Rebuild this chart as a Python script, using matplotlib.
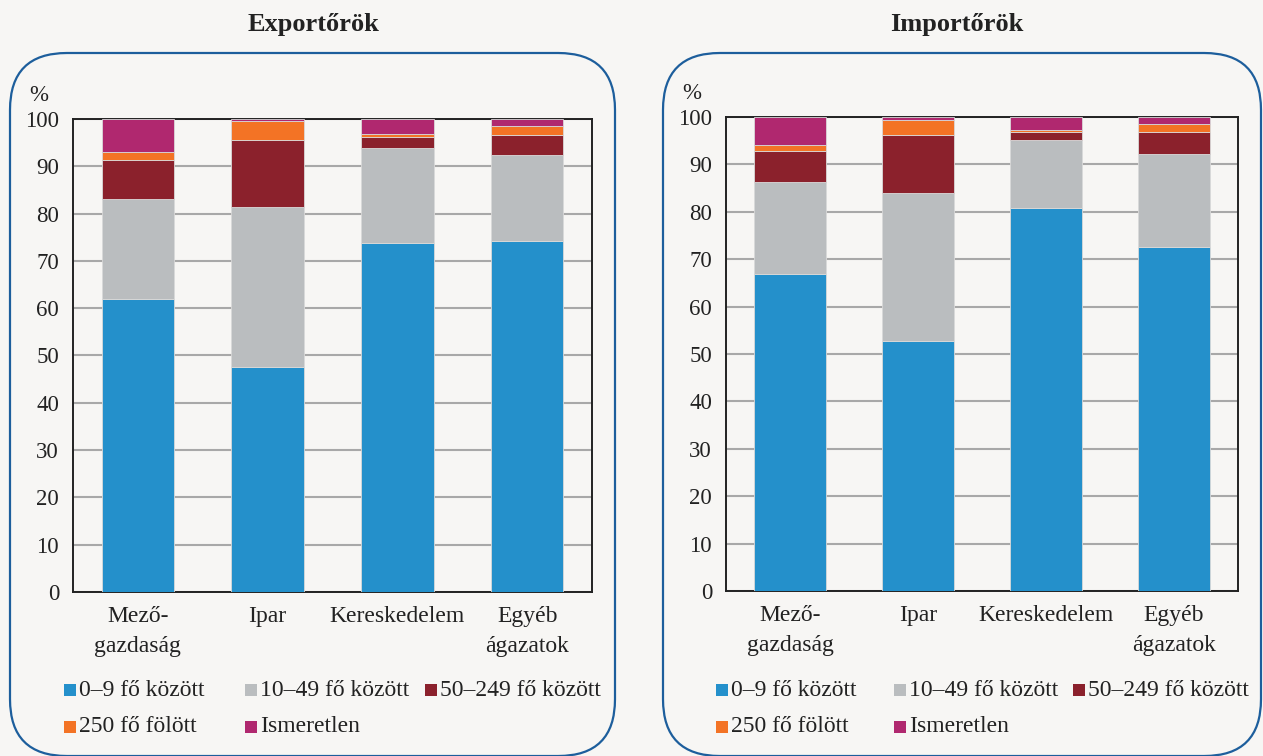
"""Exportőrök / Importőrök: létszám-kategóriák szerinti megoszlás ágazatonként."""

import matplotlib

matplotlib.use("Agg")

import matplotlib.pyplot as plt
import numpy as np
from matplotlib.patches import FancyBboxPatch, Rectangle

# --- data -------------------------------------------------------------------
categories = ["Mező-\ngazdaság", "Ipar", "Kereskedelem", "Egyéb\nágazatok"]
series_names = ["0–9 fő között", "10–49 fő között", "50–249 fő között",
                "250 fő fölött", "Ismeretlen"]
series_colors = ["#2490cb", "#babdbf", "#8b212c", "#f37325", "#b0286f"]

export_0_9 = [62.0, 47.5, 73.8, 74.2]
export_10_49 = [21.1, 34.0, 20.0, 18.1]
export_50_249 = [8.2, 14.1, 2.5, 4.3]
export_250 = [1.7, 3.9, 0.6, 2.0]
export_unknown = [7.0, 0.5, 3.1, 1.4]

import_0_9 = [66.9, 52.8, 80.7, 72.6]
import_10_49 = [19.3, 31.2, 14.4, 19.6]
import_50_249 = [6.6, 12.2, 1.8, 4.7]
import_250 = [1.2, 3.2, 0.4, 1.7]
import_unknown = [6.0, 0.6, 2.7, 1.4]

panels = [
    ("Exportőrök", [export_0_9, export_10_49, export_50_249, export_250, export_unknown]),
    ("Importőrök", [import_0_9, import_10_49, import_50_249, import_250, import_unknown]),
]

# --- style ------------------------------------------------------------------
BG = "#f7f6f4"
FRAME = "#1d5e9c"
TXT = "#222222"
FONT = ["Liberation Serif", "DejaVu Serif"]
FS = 17

plt.rcParams["font.family"] = FONT
plt.rcParams["font.size"] = FS

W, H = 1263, 756
fig = plt.figure(figsize=(W / 100, H / 100), dpi=100, facecolor=BG)


def px(x0, y0, x1, y1):
    """Pixel box (top-left origin) -> figure-fraction rect."""
    return [x0 / W, 1 - y1 / H, (x1 - x0) / W, (y1 - y0) / H]


# layout in pixels
frames = [(10, 53, 615, 756), (663, 53, 1261, 756)]
title_x = [313, 957]
axes_px = [(73, 119, 592, 592), (726, 117, 1238, 591)]
# legend slots (marker x) per panel, row-major order of series
legend_cols = [[64, 245, 425], [716, 894, 1073]]
legend_rows = [690, 727]
MARK = 12

for i, (title, values) in enumerate(panels):
    fx0, fy0, fx1, fy1 = frames[i]
    box = FancyBboxPatch(
        (fx0 / W, 1 - fy1 / H), (fx1 - fx0) / W, (fy1 - fy0) / H,
        boxstyle="round,pad=0,rounding_size=0.045",
        transform=fig.transFigure, facecolor="none", edgecolor=FRAME,
        linewidth=1.6, mutation_aspect=W / H,
    )
    fig.add_artist(box)
    fig.text(title_x[i] / W, 1 - 25 / H, title, ha="center", va="center",
             fontsize=FS + 2, fontweight="bold", color=TXT)

    ax = fig.add_axes(px(*axes_px[i]))
    ax.set_facecolor(BG)
    x = np.arange(len(categories))
    bottom = np.zeros(len(categories))
    for vals, color, name in zip(values, series_colors, series_names):
        ax.bar(x, vals, width=0.56, bottom=bottom, color=color,
               edgecolor="#d9d9d9", linewidth=0.6, label=name, zorder=3)
        bottom += np.array(vals)

    ax.set_xlim(-0.5, 3.5)
    ax.set_ylim(0, 100)
    ax.set_yticks(range(0, 101, 10))
    ax.yaxis.grid(True, color="#a8a8a8", linewidth=1.5, zorder=0)
    ax.set_axisbelow(True)
    ax.set_xticks(x)
    ax.set_xticklabels(categories, linespacing=1.6, color=TXT)
    ax.tick_params(axis="both", length=0, colors=TXT)
    ax.tick_params(axis="y", pad=10, labelsize=FS - 0.5)
    ax.tick_params(axis="x", pad=10, labelsize=FS)
    for spine in ax.spines.values():
        spine.set_color(TXT)
        spine.set_linewidth(1.4)
    ax.text(-0.066, 1.05, "%", transform=ax.transAxes, ha="center",
            va="center", fontsize=FS - 0.5, color=TXT)

    # legend, drawn as coloured squares with labels (row-major, 3 per row)
    for k, (name, color) in enumerate(zip(series_names, series_colors)):
        mx = legend_cols[i][k % 3]
        my = legend_rows[k // 3]
        fig.add_artist(Rectangle(
            (mx / W, 1 - (my + MARK / 2) / H), MARK / W, MARK / H,
            transform=fig.transFigure, facecolor=color, edgecolor="none"))
        fig.text((mx + MARK + 3) / W, 1 - my / H, name, ha="left",
                 va="center", fontsize=FS, color=TXT)

fig.savefig("out.png", dpi=100, facecolor=BG)
